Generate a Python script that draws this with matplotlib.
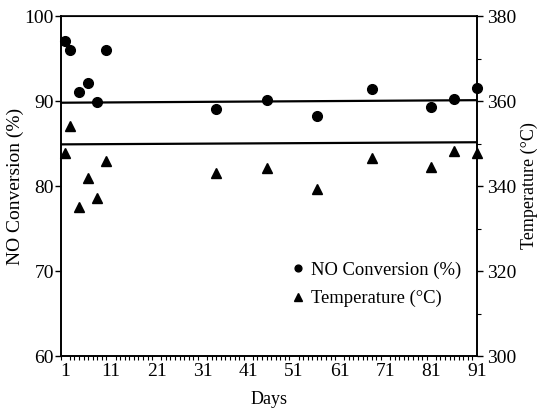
import matplotlib
matplotlib.use("Agg")
import matplotlib.pyplot as plt
from matplotlib.ticker import MultipleLocator, FixedLocator

plt.rcParams['font.family'] = ['Liberation Serif', 'DejaVu Serif']

days = [1, 2, 4, 6, 8, 10, 34, 45, 56, 68, 81, 86, 91]
no_conv = [97.1, 96.0, 91.1, 92.1, 89.9, 96.0, 89.1, 90.1, 88.2, 91.4, 89.3, 90.2, 91.5]
temps = [347.8, 354.1, 335.0, 341.8, 337.1, 346.0, 343.0, 344.2, 339.3, 346.5, 344.4, 348.3, 347.7]

# average lines (end values)
line_days = [0, 91]
no_avg = [89.8, 90.1]
temp_avg = [349.8, 350.3]

xticks = [1, 11, 21, 31, 41, 51, 61, 71, 81, 91]

fig = plt.figure(figsize=(5.4, 4.11), dpi=100)
ax = fig.add_axes([0.1124, 0.1338, 0.7709, 0.8272])
ax2 = ax.twinx()

ax.plot(days, no_conv, 'o', color='black', markersize=7, clip_on=False,
        label='NO Conversion (%)')
ax.plot(line_days, no_avg, '-', color='black', linewidth=1.6)
ax2.plot(days, temps, '^', color='black', markersize=7.5, clip_on=False,
         label='Temperature (\u00b0C)')
ax2.plot(line_days, temp_avg, '-', color='black', linewidth=1.6)

ax.set_xlim(0, 91)
ax.set_ylim(60, 100)
ax2.set_ylim(300, 380)

ax.xaxis.set_major_locator(FixedLocator(xticks))
ax.xaxis.set_minor_locator(MultipleLocator(1))
ax.yaxis.set_major_locator(MultipleLocator(10))
ax2.yaxis.set_major_locator(MultipleLocator(20))
ax2.yaxis.set_minor_locator(MultipleLocator(10))

ax.tick_params(axis='x', which='major', length=0, labelsize=14, pad=5)
ax.tick_params(axis='x', which='minor', direction='out', length=3, width=0.8)
ax.tick_params(axis='y', which='major', direction='out', length=4, width=1, labelsize=14, pad=1)
ax2.tick_params(axis='y', which='major', direction='out', length=4, width=1, labelsize=14, pad=3)
ax2.tick_params(axis='y', which='minor', direction='out', length=3, width=0.8)

for a in (ax, ax2):
    for s in a.spines.values():
        s.set_linewidth(1.2)
ax.spines['top'].set_linewidth(0.8)

ax.set_xlabel('Days', fontsize=13, labelpad=8)
ax.set_ylabel('NO Conversion (%)', fontsize=14, labelpad=0)
ax2.set_ylabel('Temperature (\u00b0C)', fontsize=13, labelpad=3)

h1, l1 = ax.get_legend_handles_labels()
h2, l2 = ax2.get_legend_handles_labels()
leg = ax2.legend(h1 + h2, l1 + l2, loc='upper left', bbox_to_anchor=(0.535, 0.305),
                 frameon=False, fontsize=13.4, handlelength=0.6, handletextpad=0.4,
                 markerscale=0.7, labelspacing=0.6, borderpad=0)

fig.savefig('out.png', dpi=100)
